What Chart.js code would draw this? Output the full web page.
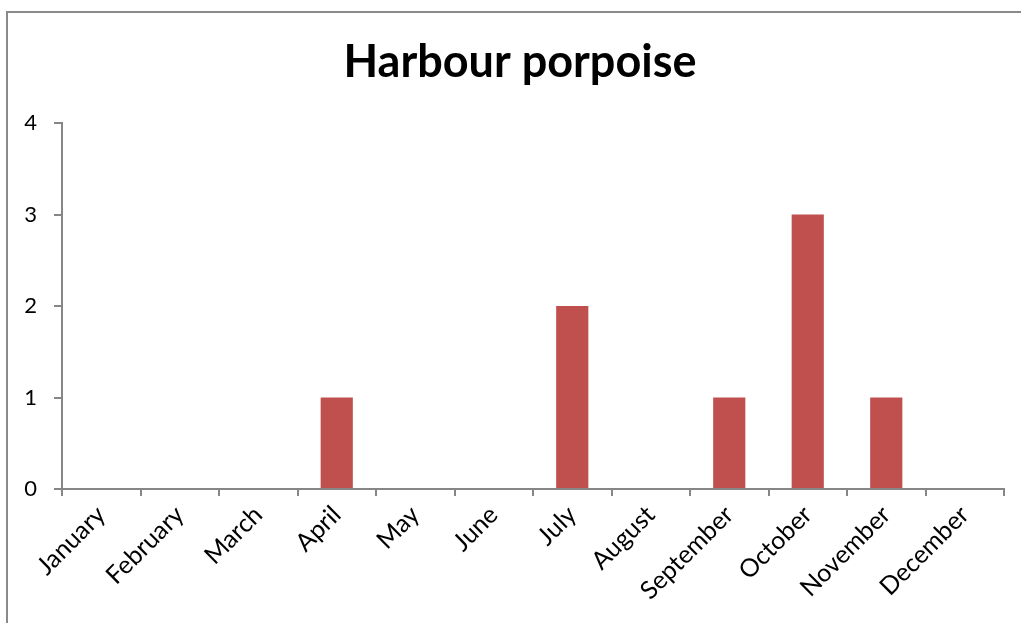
<!DOCTYPE html>
<html>
<head>
<meta charset="utf-8">
<script src="https://cdn.jsdelivr.net/npm/chart.js@4.4.1/dist/chart.umd.min.js"></script>
<style>
  html, body { margin: 0; padding: 0; background: #fff; }
  #wrap { position: relative; width: 1021px; height: 623px; overflow: hidden; }
  #frame { position: absolute; left: 6px; top: 11px; width: 1030px; height: 630px;
           border-left: 2px solid #8a8a8a; border-top: 2px solid #8a8a8a; }
  #porpoiseChart { position: absolute; left: 0; top: 0; }
</style>
</head>
<body>
<div id="wrap">
  <div id="frame"></div>
  <canvas id="porpoiseChart" width="1021" height="623"></canvas>
</div>
<script>
const months = ['January', 'February', 'March', 'April', 'May', 'June', 'July',
  'August', 'September', 'October', 'November', 'December'];
const sightings = [0, 0, 0, 1, 0, 0, 2, 0, 1, 3, 1, 0];
const yTicks = [0, 1, 2, 3, 4];

const axisGrey = '#868686';
const fontFamily = 'Lato, "Open Sans", sans-serif';

// the original title is centred a bit right of the canvas middle
const shiftTitle = {
  id: 'shiftTitle',
  afterLayout(chart) {
    if (chart.titleBlock) {
      chart.titleBlock.left = 36;
    }
  }
};

const ctx = document.getElementById('porpoiseChart').getContext('2d');
const myChart = new Chart(ctx, {
  type: 'bar',
  data: {
    labels: months,
    datasets: [{
      label: 'Harbour porpoise',
      data: sightings,
      backgroundColor: '#C0504D',
      borderWidth: 0,
      barPercentage: 0.41,
      categoryPercentage: 1
    }]
  },
  plugins: [shiftTitle],
  options: {
    responsive: false,
    animation: false,
    layout: { padding: { left: 0, right: 17, top: 0, bottom: 0 } },
    plugins: {
      legend: { display: false },
      tooltip: { enabled: false },
      title: {
        display: true,
        text: 'Harbour porpoise',
        color: '#000',
        font: { family: fontFamily, size: 45, weight: 'bold' },
        padding: { top: 35, bottom: 34 }
      }
    },
    scales: {
      x: {
        grid: {
          offset: true,
          drawOnChartArea: false,
          drawTicks: true,
          tickLength: 7,
          color: axisGrey,
          lineWidth: 2
        },
        border: { color: axisGrey, width: 2 },
        ticks: {
          color: '#000',
          font: { family: fontFamily, size: 25 },
          minRotation: 45,
          maxRotation: 45,
          autoSkip: false,
          padding: 4
        },
        afterFit: function (scale) { scale.height = 623 - 489; }
      },
      y: {
        min: 0,
        max: 4,
        afterBuildTicks: function (scale) {
          scale.ticks = yTicks.map(v => ({ value: v }));
        },
        grid: {
          drawOnChartArea: false,
          drawTicks: true,
          tickLength: 8,
          color: axisGrey,
          lineWidth: 2
        },
        border: { color: axisGrey, width: 2 },
        ticks: {
          color: '#000',
          font: { family: fontFamily, size: 22 },
          padding: 17
        },
        afterFit: function (scale) { scale.width = 62; }
      }
    }
  }
});
</script>
</body>
</html>
